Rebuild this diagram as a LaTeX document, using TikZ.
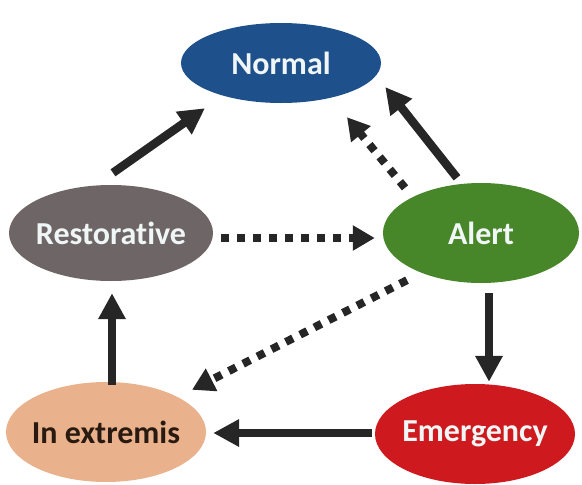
\documentclass[tikz,border=0pt]{standalone}
\usepackage{fontspec}
\setmainfont{Carlito}[Ligatures={NoCommon,NoRare,NoContextual}]
\usetikzlibrary{shapes.geometric,arrows.meta}

\definecolor{normalblue}{RGB}{30,80,140}
\definecolor{restorgray}{RGB}{110,102,102}
\definecolor{alertgreen}{RGB}{72,134,42}
\definecolor{emergred}{RGB}{206,26,30}
\definecolor{extremtan}{RGB}{234,178,140}
\definecolor{arrowdark}{RGB}{38,38,38}
\definecolor{labelwhite}{RGB}{240,246,246}
\definecolor{labeldark}{RGB}{40,26,16}

\begin{document}
\begin{tikzpicture}[
  x=1pt, y=-1pt,
  state/.style={ellipse, inner xsep=-12pt, inner ysep=0pt,
    font=\fontsize{32}{36}\selectfont\bfseries, text=labelwhite},
  solidarr/.style={draw=arrowdark, line width=8.5pt,
    -{Triangle[length=26pt,width=26pt]}},
  dotarr/.style={draw=arrowdark, line width=8pt, dash pattern=on 8pt off 8pt,
    -{Triangle[length=22pt,width=24pt]}},
]

% ---- Canvas: image pixels, y pointing down ----
\useasboundingbox (0,0) rectangle (582,485);

% ---- States ----
\node[state, fill=normalblue, minimum width=200pt, minimum height=80pt]
  (normal) at (281,63) {Normal};
\node[state, fill=restorgray, minimum width=204pt, minimum height=96pt]
  (restor) at (111,233) {Restorat\kern0pt ive};
\node[state, fill=alertgreen, minimum width=196pt, minimum height=100pt]
  (alert) at (481,233) {Alert};
\node[state, fill=extremtan, text=labeldark, minimum width=200pt, minimum height=100pt]
  (extrem) at (106,432) {In extremis};
\node[state, fill=emergred, minimum width=200pt, minimum height=100pt]
  (emerg) at (475,434) {Emergency};

% ---- Solid transitions ----
\draw[solidarr] ([xshift=2pt,yshift=12pt]restor.north) -- ([xshift=-76pt,yshift=-5pt]normal.south);
\draw[solidarr] ([xshift=-24pt,yshift=5pt]alert.north) -- ([xshift=4pt,yshift=-24pt]normal.east);
\draw[solidarr] ([xshift=8pt,yshift=-10pt]alert.south) -- ([xshift=14pt,yshift=2pt]emerg.north);
\draw[solidarr] ([xshift=-3pt,yshift=1pt]emerg.west) -- ([xshift=7pt,yshift=-1pt]extrem.east);
\draw[solidarr] ([xshift=6pt,yshift=-3pt]extrem.north) -- ([xshift=1pt,yshift=-12pt]restor.south);

% ---- Dotted transitions ----
\draw[dotarr] ([xshift=-76pt,yshift=-5pt]alert.north) -- ([xshift=66pt,yshift=-14pt]normal.south);
\draw[dotarr] ([xshift=8pt,yshift=-5pt]restor.east) -- ([xshift=-8pt,yshift=-5pt]alert.west);
\draw[dotarr] ([xshift=-74pt,yshift=3pt]alert.south) -- ([xshift=86pt,yshift=-8pt]extrem.north);

\end{tikzpicture}
\end{document}
